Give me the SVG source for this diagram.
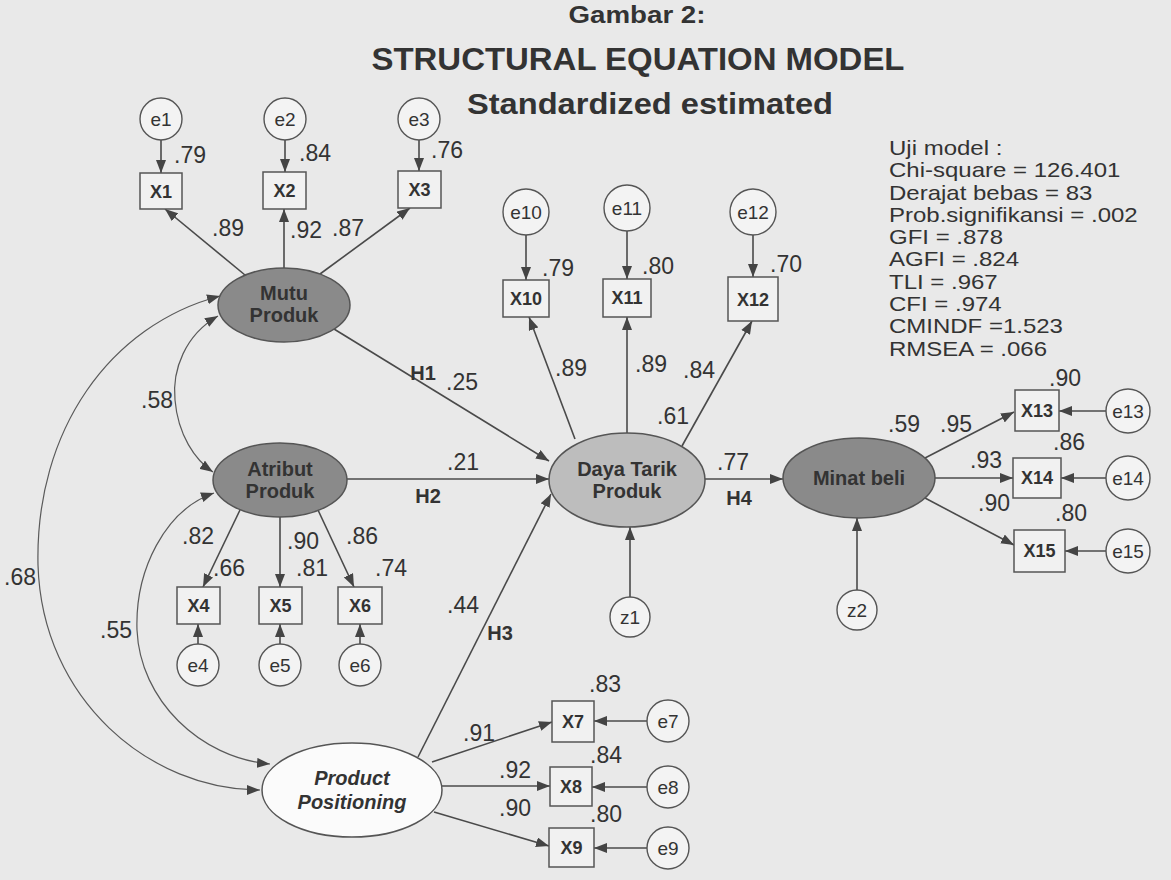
<svg xmlns="http://www.w3.org/2000/svg" width="1171" height="880" viewBox="0 0 1171 880">
<defs>
<style>
.bg{fill:#e9e9e9}
.ln{stroke:#4a4a4a;stroke-width:1.6;fill:none}
.cov{stroke:#5a5a5a;stroke-width:1.2;fill:none}
.box{fill:#f1f1f1;stroke:#555;stroke-width:1.5}
.err{fill:#f3f3f3;stroke:#555;stroke-width:1.4}
.dark{fill:#8a8a8a;stroke:#555;stroke-width:1.5}
.mid{fill:#bdbdbd;stroke:#555;stroke-width:1.5}
.white{fill:#fbfbfb;stroke:#555;stroke-width:1.5}
text{font-family:"Liberation Sans",Arial,sans-serif;fill:#333}
.num{font-size:23px;text-anchor:middle}
.bx{font-size:18px;font-weight:bold;text-anchor:middle}
.el{font-size:19px;text-anchor:middle}
.lat{font-size:20px;font-weight:bold;text-anchor:middle}
.h{font-size:20px;font-weight:bold;text-anchor:middle}
.stat{font-size:20px}
</style>
<marker id="ar" viewBox="0 0 13 10" refX="13" refY="5" markerWidth="13" markerHeight="10" markerUnits="userSpaceOnUse" orient="auto-start-reverse">
<path d="M0,0 L13,5 L0,10 Z" fill="#444"/>
</marker>
</defs>
<rect class="bg" x="0" y="0" width="1171" height="880"/>

<g id="title">
<text x="637" y="23" style="font-size:23px;font-weight:bold;text-anchor:middle" textLength="137" lengthAdjust="spacingAndGlyphs">Gambar 2:</text>
<text x="638" y="70" style="font-size:31px;font-weight:bold;text-anchor:middle" textLength="533" lengthAdjust="spacingAndGlyphs">STRUCTURAL EQUATION MODEL</text>
<text x="650" y="114" style="font-size:30px;font-weight:bold;text-anchor:middle" textLength="366" lengthAdjust="spacingAndGlyphs">Standardized estimated</text>
</g>

<g id="stats" class="stat" transform="translate(889,0) scale(1.2,1)">
<text x="0" y="155">Uji model :</text>
<text x="0" y="177.3">Chi-square = 126.401</text>
<text x="0" y="199.6">Derajat bebas = 83</text>
<text x="0" y="221.9">Prob.signifikansi = .002</text>
<text x="0" y="244.2">GFI  = .878</text>
<text x="0" y="266.5">AGFI = .824</text>
<text x="0" y="288.8">TLI = .967</text>
<text x="0" y="311.1">CFI = .974</text>
<text x="0" y="333.4">CMINDF =1.523</text>
<text x="0" y="355.7">RMSEA = .066</text>
</g>

<g id="connectors">
<line class="ln" x1="161" y1="140" x2="161" y2="173" marker-end="url(#ar)"/>
<line class="ln" x1="285" y1="140" x2="285" y2="172" marker-end="url(#ar)"/>
<line class="ln" x1="419" y1="140" x2="419" y2="171" marker-end="url(#ar)"/>
<line class="ln" x1="526" y1="235" x2="526" y2="280" marker-end="url(#ar)"/>
<line class="ln" x1="627" y1="231" x2="627" y2="279" marker-end="url(#ar)"/>
<line class="ln" x1="753" y1="235" x2="753" y2="277" marker-end="url(#ar)"/>
<line class="ln" x1="198" y1="644" x2="198" y2="624" marker-end="url(#ar)"/>
<line class="ln" x1="280" y1="644" x2="280" y2="624" marker-end="url(#ar)"/>
<line class="ln" x1="360" y1="644" x2="360" y2="624" marker-end="url(#ar)"/>
<line class="ln" x1="1106" y1="411" x2="1059" y2="411" marker-end="url(#ar)"/>
<line class="ln" x1="1106" y1="478" x2="1061" y2="478" marker-end="url(#ar)"/>
<line class="ln" x1="1106" y1="551" x2="1065" y2="551" marker-end="url(#ar)"/>
<line class="ln" x1="647" y1="721" x2="594" y2="721" marker-end="url(#ar)"/>
<line class="ln" x1="647" y1="787" x2="592" y2="787" marker-end="url(#ar)"/>
<line class="ln" x1="647" y1="848" x2="594" y2="848" marker-end="url(#ar)"/>
<line class="ln" x1="630" y1="597" x2="630" y2="527" marker-end="url(#ar)"/>
<line class="ln" x1="857" y1="590" x2="857" y2="518" marker-end="url(#ar)"/>
<line class="ln" x1="245" y1="275" x2="165" y2="209" marker-end="url(#ar)"/>
<line class="ln" x1="284" y1="268" x2="284" y2="209" marker-end="url(#ar)"/>
<line class="ln" x1="320" y1="274" x2="410" y2="208" marker-end="url(#ar)"/>
<line class="ln" x1="575" y1="439" x2="529" y2="317" marker-end="url(#ar)"/>
<line class="ln" x1="627" y1="433" x2="627" y2="317" marker-end="url(#ar)"/>
<line class="ln" x1="682" y1="446" x2="752" y2="321" marker-end="url(#ar)"/>
<line class="ln" x1="240" y1="510" x2="203" y2="587" marker-end="url(#ar)"/>
<line class="ln" x1="280" y1="517" x2="280" y2="587" marker-end="url(#ar)"/>
<line class="ln" x1="318" y1="510" x2="354" y2="587" marker-end="url(#ar)"/>
<line class="ln" x1="925" y1="458" x2="1014" y2="412" marker-end="url(#ar)"/>
<line class="ln" x1="935" y1="478" x2="1013" y2="478" marker-end="url(#ar)"/>
<line class="ln" x1="925" y1="498" x2="1014" y2="545" marker-end="url(#ar)"/>
<line class="ln" x1="432" y1="762" x2="552" y2="722" marker-end="url(#ar)"/>
<line class="ln" x1="442" y1="786" x2="550" y2="786" marker-end="url(#ar)"/>
<line class="ln" x1="434" y1="812" x2="549" y2="846" marker-end="url(#ar)"/>
<line class="ln" x1="334" y1="329" x2="549" y2="461" marker-end="url(#ar)"/>
<line class="ln" x1="347" y1="479" x2="549" y2="479" marker-end="url(#ar)"/>
<line class="ln" x1="418" y1="757" x2="551" y2="494" marker-end="url(#ar)"/>
<line class="ln" x1="705" y1="479" x2="783" y2="479" marker-end="url(#ar)"/>
<path class="cov" d="M218,316 C185,335 172,370 175,400 C178,435 195,460 213,472" marker-start="url(#ar)" marker-end="url(#ar)"/>
<path class="cov" d="M220,296 C110,325 35,430 38,565 C42,700 150,790 260,790" marker-start="url(#ar)" marker-end="url(#ar)"/>
<path class="cov" d="M214,493 C165,510 135,570 137,630 C140,700 200,758 270,764" marker-start="url(#ar)" marker-end="url(#ar)"/>
</g>

<g id="e1"><circle class="err" cx="161" cy="119" r="21"/><text class="el" x="161" y="126">e1</text></g>
<g id="e2"><circle class="err" cx="285" cy="119" r="21"/><text class="el" x="285" y="126">e2</text></g>
<g id="e3"><circle class="err" cx="419" cy="119" r="21"/><text class="el" x="419" y="126">e3</text></g>
<g id="X1"><rect class="box" x="140" y="173" width="42" height="36"/><text class="bx" x="161" y="198">X1</text></g>
<g id="X2"><rect class="box" x="263" y="172" width="43" height="37"/><text class="bx" x="284.5" y="197">X2</text></g>
<g id="X3"><rect class="box" x="398" y="171" width="43" height="37"/><text class="bx" x="419.5" y="196">X3</text></g>
<g id="mutu"><ellipse class="dark" cx="284" cy="305" rx="66" ry="37"/><text class="lat" x="284" y="300">Mutu</text><text class="lat" x="284" y="322">Produk</text></g>

<g id="e10"><circle class="err" cx="526" cy="212" r="23"/><text class="el" x="526" y="219">e10</text></g>
<g id="e11"><circle class="err" cx="627" cy="208" r="23"/><text class="el" x="627" y="215">e11</text></g>
<g id="e12"><circle class="err" cx="753" cy="212" r="23"/><text class="el" x="753" y="219">e12</text></g>
<g id="X10"><rect class="box" x="503" y="280" width="46" height="37"/><text class="bx" x="526" y="305">X10</text></g>
<g id="X11"><rect class="box" x="603" y="279" width="48" height="38"/><text class="bx" x="627" y="304">X11</text></g>
<g id="X12"><rect class="box" x="728" y="277" width="50" height="44"/><text class="bx" x="753" y="306">X12</text></g>
<g id="daya"><ellipse class="mid" cx="627" cy="480" rx="78" ry="47"/><text class="lat" x="627" y="476">Daya Tarik</text><text class="lat" x="627" y="498">Produk</text></g>

<g id="atribut"><ellipse class="dark" cx="280" cy="480" rx="67" ry="37"/><text class="lat" x="280" y="476">Atribut</text><text class="lat" x="280" y="498">Produk</text></g>
<g id="X4"><rect class="box" x="177" y="587" width="43" height="37"/><text class="bx" x="198.5" y="612">X4</text></g>
<g id="X5"><rect class="box" x="259" y="587" width="43" height="37"/><text class="bx" x="280.5" y="612">X5</text></g>
<g id="X6"><rect class="box" x="338" y="587" width="44" height="37"/><text class="bx" x="360" y="612">X6</text></g>
<g id="e4"><circle class="err" cx="198" cy="665" r="21"/><text class="el" x="198" y="672">e4</text></g>
<g id="e5"><circle class="err" cx="280" cy="665" r="21"/><text class="el" x="280" y="672">e5</text></g>
<g id="e6"><circle class="err" cx="360" cy="665" r="21"/><text class="el" x="360" y="672">e6</text></g>

<g id="pp"><ellipse class="white" cx="352" cy="790" rx="90" ry="47"/><text class="lat" x="352" y="785" font-style="italic">Product</text><text class="lat" x="352" y="809" font-style="italic">Positioning</text></g>
<g id="X7"><rect class="box" x="552" y="701" width="42" height="41"/><text class="bx" x="573" y="728">X7</text></g>
<g id="X8"><rect class="box" x="550" y="767" width="42" height="39"/><text class="bx" x="571" y="793">X8</text></g>
<g id="X9"><rect class="box" x="549" y="828" width="45" height="39"/><text class="bx" x="571.5" y="854">X9</text></g>
<g id="e7"><circle class="err" cx="668" cy="721" r="21"/><text class="el" x="668" y="728">e7</text></g>
<g id="e8"><circle class="err" cx="668" cy="787" r="21"/><text class="el" x="668" y="794">e8</text></g>
<g id="e9"><circle class="err" cx="668" cy="848" r="21"/><text class="el" x="668" y="855">e9</text></g>

<g id="z1"><circle class="err" cx="630" cy="617" r="20"/><text class="el" x="630" y="624">z1</text></g>
<g id="minat"><ellipse class="dark" cx="859" cy="478" rx="76" ry="40"/><text class="lat" x="859" y="485">Minat beli</text></g>
<g id="z2"><circle class="err" cx="857" cy="610" r="20"/><text class="el" x="857" y="617">z2</text></g>
<g id="X13"><rect class="box" x="1015" y="390" width="44" height="41"/><text class="bx" x="1037" y="417">X13</text></g>
<g id="X14"><rect class="box" x="1013" y="458" width="48" height="40"/><text class="bx" x="1037" y="484">X14</text></g>
<g id="X15"><rect class="box" x="1014" y="530" width="51" height="42"/><text class="bx" x="1039.5" y="557">X15</text></g>
<g id="e13"><circle class="err" cx="1128" cy="411" r="22"/><text class="el" x="1128" y="418">e13</text></g>
<g id="e14"><circle class="err" cx="1128" cy="478" r="22"/><text class="el" x="1128" y="485">e14</text></g>
<g id="e15"><circle class="err" cx="1128" cy="551" r="22"/><text class="el" x="1128" y="558">e15</text></g>

<g id="labels">
<text class="num" x="190" y="163">.79</text>
<text class="num" x="315" y="161">.84</text>
<text class="num" x="447" y="158">.76</text>
<text class="num" x="228" y="236">.89</text>
<text class="num" x="306" y="238">.92</text>
<text class="num" x="348" y="236">.87</text>
<text class="num" x="558" y="276">.79</text>
<text class="num" x="658" y="274">.80</text>
<text class="num" x="786" y="272">.70</text>
<text class="num" x="571" y="376">.89</text>
<text class="num" x="651" y="372">.89</text>
<text class="num" x="699" y="378">.84</text>
<text class="num" x="673" y="424">.61</text>
<text class="h" x="423" y="380">H1</text>
<text class="num" x="462" y="390">.25</text>
<text class="num" x="463" y="470">.21</text>
<text class="h" x="428" y="503">H2</text>
<text class="num" x="733" y="470">.77</text>
<text class="h" x="739" y="505">H4</text>
<text class="num" x="463" y="613">.44</text>
<text class="h" x="500" y="640">H3</text>
<text class="num" x="157" y="408">.58</text>
<text class="num" x="20" y="585">.68</text>
<text class="num" x="116" y="638">.55</text>
<text class="num" x="198" y="544">.82</text>
<text class="num" x="229" y="576">.66</text>
<text class="num" x="303" y="549">.90</text>
<text class="num" x="312" y="576">.81</text>
<text class="num" x="362" y="544">.86</text>
<text class="num" x="391" y="576">.74</text>
<text class="num" x="904" y="432">.59</text>
<text class="num" x="956" y="432">.95</text>
<text class="num" x="1065" y="386">.90</text>
<text class="num" x="1069" y="450">.86</text>
<text class="num" x="986" y="468">.93</text>
<text class="num" x="994" y="511">.90</text>
<text class="num" x="1071" y="521">.80</text>
<text class="num" x="605" y="692">.83</text>
<text class="num" x="479" y="741">.91</text>
<text class="num" x="606" y="763">.84</text>
<text class="num" x="515" y="778">.92</text>
<text class="num" x="515" y="816">.90</text>
<text class="num" x="606" y="822">.80</text>
</g>
</svg>
